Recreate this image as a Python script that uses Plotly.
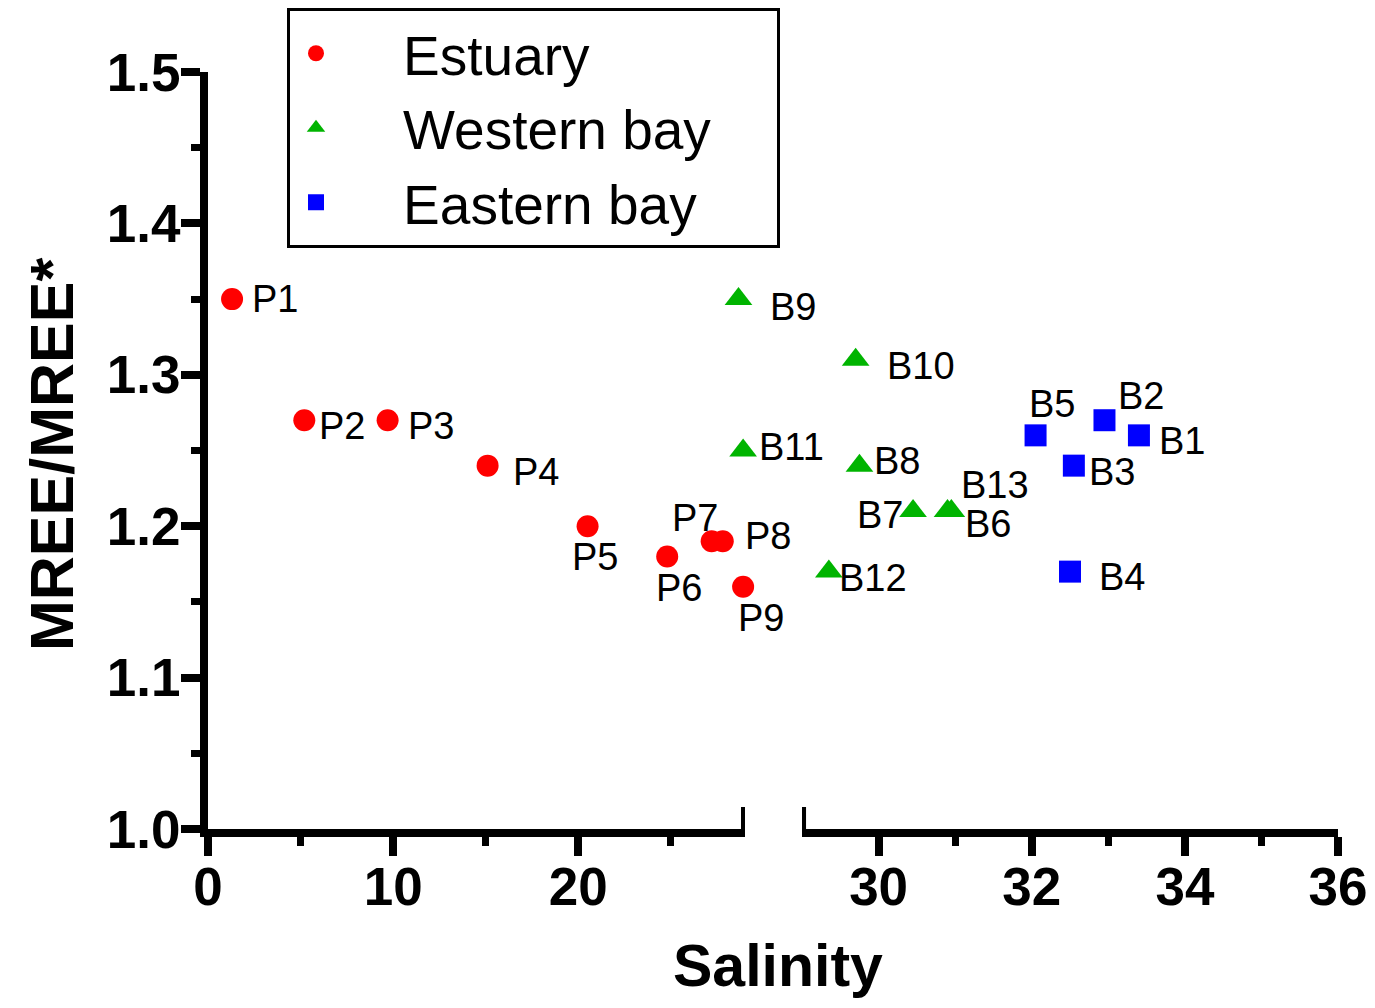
import plotly.graph_objects as go

# ---------------- data ----------------
BREAK = 29.0  # salinity where the x-axis scale changes

estuary_names = ["P1", "P2", "P3", "P4", "P5", "P6", "P7", "P8", "P9"]
estuary_sal = [1.3, 5.2, 9.7, 15.1, 20.5, 24.8, 27.2, 27.8, 28.9]
estuary_ratio = [1.35, 1.27, 1.27, 1.24, 1.20, 1.18, 1.19, 1.19, 1.16]

western_names = ["B6", "B7", "B8", "B9", "B10", "B11", "B12", "B13"]
western_sal = [30.9, 30.45, 29.75, 28.65, 29.7, 28.9, 29.35, 30.95]
western_ratio = [1.21, 1.21, 1.24, 1.35, 1.31, 1.25, 1.17, 1.21]

eastern_names = ["B1", "B2", "B3", "B4", "B5"]
eastern_sal = [33.4, 32.95, 32.55, 32.5, 32.05]
eastern_ratio = [1.26, 1.27, 1.24, 1.17, 1.26]

y_ticks = [1.0, 1.1, 1.2, 1.3, 1.4, 1.5]
left_ticks = [0, 10, 20]
right_ticks = [30, 32, 34, 36]
right_minor = [31, 33, 35]

# ---------------- styling ----------------
FONT = "Liberation Sans, Arial, Helvetica, sans-serif"
BLACK = "#000000"
LW = 8
NB = "\u00a0"

# label placement (pixel offsets from the marker: xshift, yshift, xanchor)
label_style = {
    "P1": (18, 0, "left"), "P2": (13, -6, "left"), "P3": (18, -6, "left"),
    "P4": (23, -6, "left"), "P5": (7, -31, "center"), "P6": (12, -32, "center"),
    "P7": (-17, 23, "center"), "P8": (20, 5, "left"), "P9": (18, -31, "center"),
    "B9": (29, -8, "left"), "B10": (29, -6, "left"), "B11": (14, 4, "left"),
    "B8": (13, 5, "left"), "B7": (-8, -4, "right"), "B6": (15, -13, "left"),
    "B13": (8, 26, "left"), "B12": (8, -6, "left"),
    "B5": (16, 31, "center"), "B2": (12, 24, "left"), "B1": (18, -6, "left"),
    "B3": (13, -6, "left"), "B4": (27, -5, "left"),
}

series = [
    ("Estuary", estuary_names, estuary_sal, estuary_ratio, "circle", "#FF0000", 22),
    ("Western bay", western_names, western_sal, western_ratio, "triangle-up", "#00B400", 24),
    ("Eastern bay", eastern_names, eastern_sal, eastern_ratio, "square", "#0000FF", 22),
]

fig = go.Figure()
annotations = []

for rank, (name, names, sal, ratio, sym, col, size) in enumerate(series):
    left = [(n, s, r) for n, s, r in zip(names, sal, ratio) if s < BREAK]
    right = [(n, s, r) for n, s, r in zip(names, sal, ratio) if s >= BREAK]
    shown = False
    for part, xa in ((left, "x"), (right, "x2")):
        if not part:
            continue
        fig.add_trace(go.Scatter(
            x=[p[1] for p in part], y=[p[2] for p in part],
            xaxis=xa, yaxis="y", mode="markers",
            name=NB * 4 + name + NB * 4, legendgroup=name,
            legendrank=rank + 1, showlegend=not shown,
            marker=dict(symbol=sym, color=col, size=size, line=dict(width=0)),
            cliponaxis=False,
        ))
        shown = True
        for n, s, r in part:
            dx, dy, anc = label_style[n]
            annotations.append(dict(
                x=s, y=r, xref=xa, yref="y", text=n, showarrow=False,
                xanchor=anc, yanchor="middle", xshift=dx, yshift=dy,
                font=dict(family=FONT, size=38, color=BLACK),
            ))

# axis titles
annotations.append(dict(
    x=0.504, y=-0.181, xref="paper", yref="paper", text="Salinity",
    showarrow=False, xanchor="center", yanchor="middle",
    font=dict(family=FONT, size=59, color=BLACK, weight="bold"),
))
annotations.append(dict(
    x=(52 - 208) / 1130, y=0.494, xref="paper", yref="paper", text="MREE/MREE*",
    showarrow=False, xanchor="center", yanchor="middle", textangle=-90,
    font=dict(family=FONT, size=61, color=BLACK, weight="bold"),
))

tickfont = dict(family=FONT, size=53, color=BLACK, weight="bold")
common = dict(showline=True, linewidth=LW, linecolor=BLACK, ticks="outside",
              ticklen=19, tickwidth=LW, tickcolor=BLACK, showgrid=False,
              zeroline=False, tickfont=tickfont)
minor_common = dict(ticks="outside", ticklen=9, tickwidth=7, tickcolor=BLACK,
                    showgrid=False)

fig.update_layout(
    width=1375, height=1008,
    margin=dict(l=208, r=37, t=72, b=179, autoexpand=False),
    paper_bgcolor="white", plot_bgcolor="white",
    xaxis=dict(domain=[0, 0.4752], range=[0, BREAK], tickvals=left_ticks,
               anchor="y", ticklabelstandoff=-15,
               minor=dict(dtick=5, **minor_common), **common),
    xaxis2=dict(domain=[0.5257, 1], range=[BREAK, 36], tickvals=right_ticks,
                anchor="y", ticklabelstandoff=-15,
                minor=dict(tickvals=right_minor, **minor_common), **common),
    yaxis=dict(domain=[0, 1], range=[1.0, 1.5], tickvals=y_ticks,
               tickformat=".1f", anchor="x", ticklabelstandoff=-10,
               minor=dict(dtick=0.05, **minor_common), **common),
    legend=dict(
        xref="container", yref="container", x=287 / 1375, y=1 - 8 / 1008,
        xanchor="left", yanchor="top", bordercolor=BLACK, borderwidth=3,
        bgcolor="white", font=dict(family=FONT, size=55, color=BLACK),
        itemwidth=42, traceorder="normal",
    ),
    annotations=annotations,
    showlegend=True,
)

# end caps at the axis break
for xa in ("x", "x2"):
    fig.add_shape(type="line", xref=xa, yref="y", x0=BREAK, x1=BREAK,
                  ysizemode="pixel", yanchor=1.0, y0=-22, y1=22,
                  line=dict(color=BLACK, width=LW))

fig.write_html("out.html")
